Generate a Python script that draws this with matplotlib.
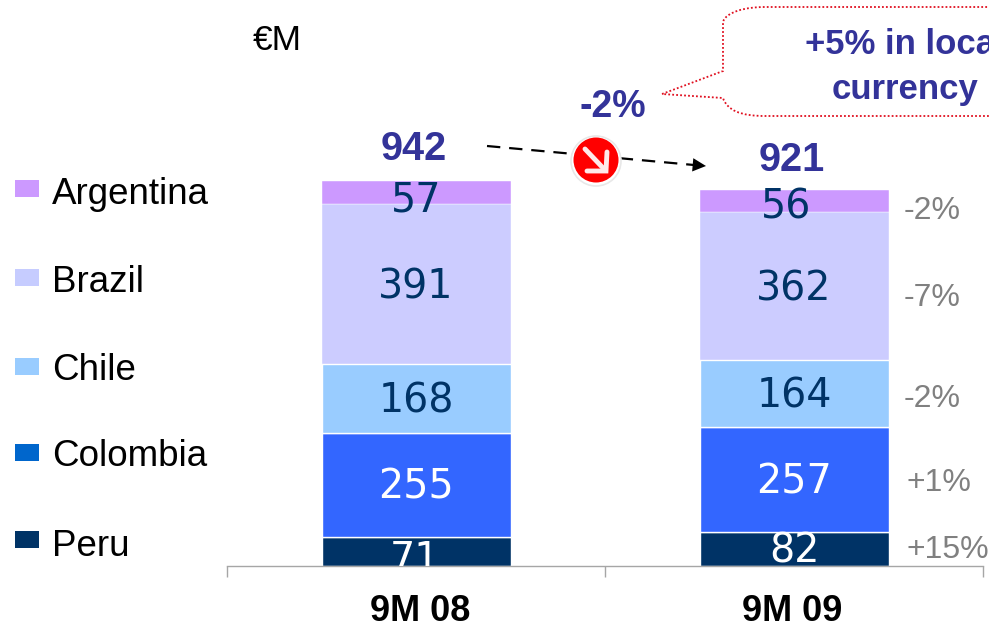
import matplotlib
matplotlib.use("Agg")
import matplotlib.pyplot as plt
from matplotlib.path import Path
from matplotlib.patches import PathPatch, Circle, Rectangle
from matplotlib.transforms import ScaledTranslation

W, H = 989, 627
periods = ["9M 08", "9M 09"]
countries = ["Peru", "Colombia", "Chile", "Brazil", "Argentina"]
peru = [71, 82]
colombia = [255, 257]
chile = [168, 164]
brazil = [391, 362]
argentina = [57, 56]
totals = [942, 921]
growth = ["+15%", "+1%", "-2%", "-7%", "-2%"]
series = [peru, colombia, chile, brazil, argentina]
colors = ["#003366", "#3366FF", "#99CCFF", "#CCCCFF", "#CC99FF"]
legend_colors = ["#003366", "#0066CC", "#99CCFF", "#C6CCFF", "#CC99FF"]
label_colors = ["white", "white", "#003366", "#003366", "#003366"]
legend_y = [539, 452, 366, 277, 188]
legend_text_y = [543, 454, 368, 279, 191]
growth_y = [548, 481, 397, 296, 209]

SANS = "Liberation Sans"
NAVY = "#333399"
fig = plt.figure(figsize=(W / 100, H / 100), dpi=100, facecolor="white")

# data axes: baseline at y=566 px, 0.4087 px per unit
ax = fig.add_axes([227 / W, (H - 566) / H, (983 - 227) / W, 566 / H])
ax.set_xlim(-0.5, 1.5)
ax.set_ylim(0, 566 / 0.4087)
ax.patch.set_alpha(0)

# small pixel nudges of value labels (right, down), keyed by (series, period)
nudges = {(0, 0): (-1, 9), (0, 1): (0, 2), (4, 0): (0, 8), (4, 1): (-8, 6)}
bottoms = [0, 0]
for k, vals in enumerate(series):
    ax.bar(range(2), vals, 0.5, bottom=bottoms, color=colors[k],
           edgecolor="white", linewidth=1.0 if k < 3 else 0.3, zorder=2)
    for i, v in enumerate(vals):
        dx, dy = nudges.get((k, i), (0, 3))
        ax.text(i + dx / 378, bottoms[i] + v / 2 - dy / 0.4087, str(v), ha="center",
                va="center", family="DejaVu Sans", fontsize=28.5, color=label_colors[k],
                clip_on=True, zorder=3)
    bottoms = [b + v for b, v in zip(bottoms, vals)]

for s in ["top", "left", "right"]:
    ax.spines[s].set_visible(False)
ax.spines["bottom"].set_color("#A6A6A6")
ax.spines["bottom"].set_linewidth(1.0)
ax.set_yticks([])
ax.set_xticks([0, 1])
ax.set_xticklabels(periods, family=SANS, fontweight="bold", fontsize=26, color="black")
ax.tick_params(axis="x", which="major", length=0, pad=20)
ax.set_xticks([-0.5, 0.5, 1.5], minor=True)
ax.tick_params(axis="x", which="minor", length=8, width=1.0, color="#A6A6A6")
for lab, off in zip(ax.get_xticklabels(), [4, -2]):
    lab.set_transform(lab.get_transform() + ScaledTranslation(off / 100, 0, fig.dpi_scale_trans))

# overlay in pixel coordinates for annotations
ov = fig.add_axes([0, 0, 1, 1])
ov.set_xlim(0, W)
ov.set_ylim(H, 0)
ov.axis("off")
ov.patch.set_alpha(0)

# legend
for name, c, y, ty in zip(countries, legend_colors, legend_y, legend_text_y):
    ov.add_patch(Rectangle((15, y - 8.5), 24, 17, facecolor=c, edgecolor="none"))
    ov.text(52, ty + 3, name, family=SANS, fontsize=26.5, va="center", color="black")

ov.text(253, 40, "€M", family=SANS, fontsize=25.5, va="center", color="black")

# totals
ov.text(414, 149, str(totals[0]), family=SANS, fontweight="bold", fontsize=28.5,
        color=NAVY, ha="center", va="center")
ov.text(792, 160, str(totals[1]), family=SANS, fontweight="bold", fontsize=28.5,
        color=NAVY, ha="center", va="center")

# growth labels
for g, y in zip(growth, growth_y):
    ov.text(904 if g.startswith("-") else 906, y + 2, g, family=SANS, fontsize=23,
            color="#808080", va="center")

# dashed trend arrow
ov.plot([487, 694], [146, 165], color="black", lw=1.6, dashes=(6, 4), zorder=4)
ov.annotate("", xy=(706, 166), xytext=(690, 164.6),
            arrowprops=dict(arrowstyle="-|>", color="black", lw=0, mutation_scale=24,
                            shrinkA=0, shrinkB=0), zorder=5)
ov.text(613, 107, "-2%", family=SANS, fontweight="bold", fontsize=27, color=NAVY,
        ha="center", va="center")

# red down-arrow icon
ov.add_patch(Circle((596, 161), 25, facecolor="white", edgecolor="#E8E8E8", lw=1.2, zorder=6))
ov.add_patch(Circle((596, 160), 22.5, facecolor="#FF0000", edgecolor="none", zorder=7))
ov.plot([585, 604], [149, 169], color="#FFE9E9", lw=3.5, solid_capstyle="round", zorder=8)
ov.plot([587, 606, 607], [171, 171, 152], color="#FFE9E9", lw=3.5,
        solid_capstyle="round", solid_joinstyle="miter", zorder=8)

# callout
verts = [(662, 94), (723, 71), (723, 22), (726, 12), (745, 7), (765, 7),
         (1010, 7), (1010, 116), (765, 116), (740, 116), (727, 110), (723, 98), (662, 94)]
codes = [Path.MOVETO, Path.LINETO, Path.LINETO, Path.CURVE4, Path.CURVE4, Path.CURVE4,
         Path.LINETO, Path.LINETO, Path.LINETO, Path.CURVE4, Path.CURVE4, Path.CURVE4, Path.LINETO]
ov.add_patch(PathPatch(Path(verts, codes), facecolor="white", edgecolor="#E01020",
                       lw=1.3, linestyle=(0, (1, 1.2)), zorder=3))
ov.text(905, 44, "+5% in local", family=SANS, fontweight="bold", fontsize=25, color=NAVY,
        ha="center", va="center", zorder=5)
ov.text(905, 89, "currency", family=SANS, fontweight="bold", fontsize=25, color=NAVY,
        ha="center", va="center", zorder=5)

fig.savefig("out.png", dpi=100, facecolor="white")
